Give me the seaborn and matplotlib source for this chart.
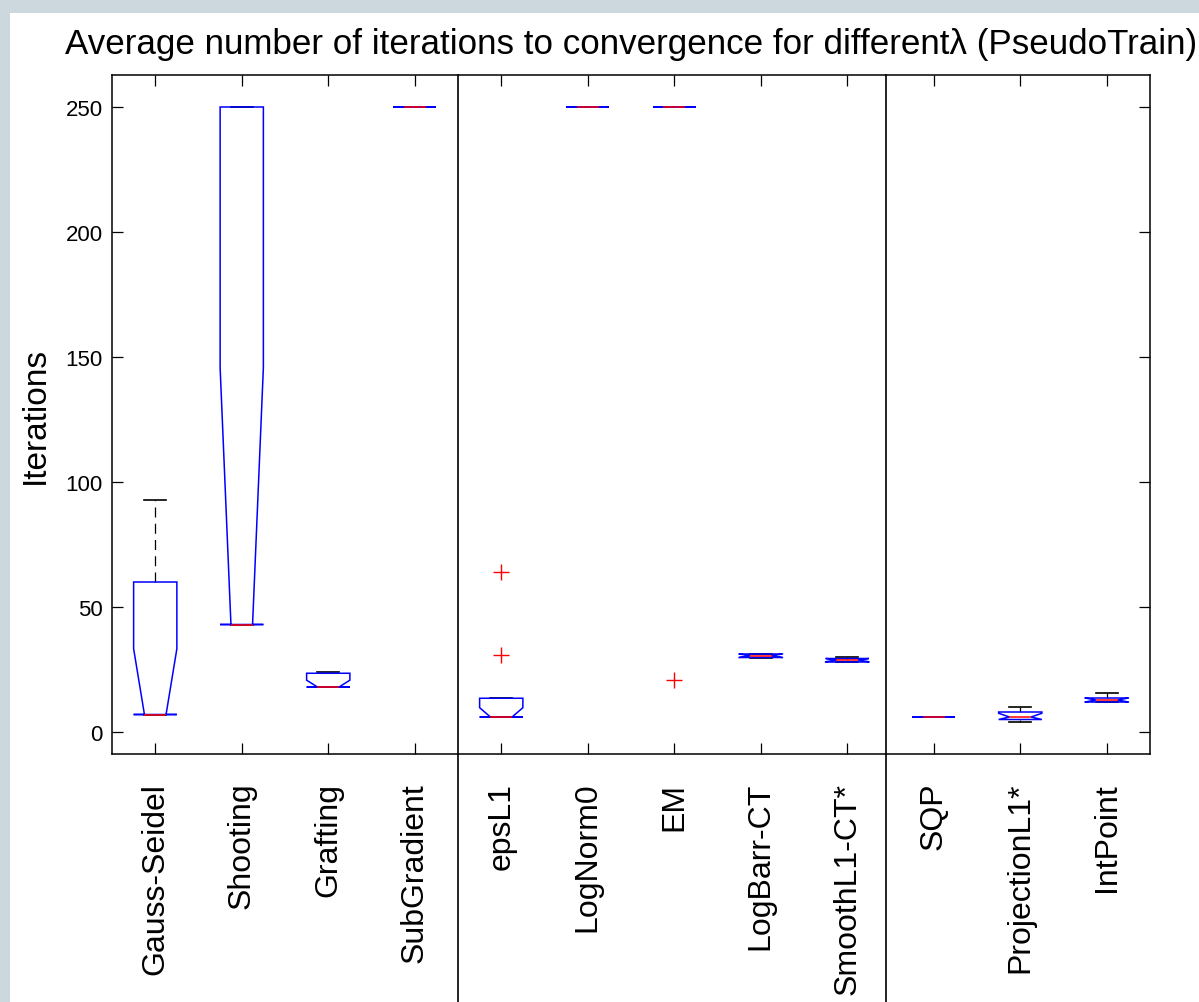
import numpy as np
import pandas as pd
import matplotlib
matplotlib.use("Agg")
import matplotlib.pyplot as plt
import matplotlib.patches as mpatches
import matplotlib.path as mpath
import seaborn as sns

plt.rcParams['font.family'] = ['Liberation Sans', 'DejaVu Sans']

# ---- data (iterations to convergence over the lambda values) ----
methods = ["Gauss-Seidel", "Shooting", "Grafting", "SubGradient", "epsL1",
           "LogNorm0", "EM", "LogBarr-CT", "SmoothL1-CT*", "SQP",
           "ProjectionL1*", "IntPoint"]

gauss_seidel = [7, 7, 7, 7, 7, 7, 60, 60, 75, 93]
shooting = [43, 43, 43, 43, 43, 43, 250, 250, 250, 250]
grafting = [18, 18, 18, 18, 18, 18, 23.5, 23.5, 24, 24]
subgradient = [250, 250, 250, 250, 250, 250, 250, 250, 250, 250]
epsl1 = [6, 6, 6, 6, 6, 6, 13.5, 13.5, 31, 64]
lognorm0 = [250, 250, 250, 250, 250, 250, 250, 250, 250, 250]
em = [21, 250, 250, 250, 250, 250, 250, 250, 250, 250]
logbarr_ct = [29.8, 29.8, 29.8, 29.8, 30.5, 30.5, 31.2, 31.2, 31.2, 31.2]
smoothl1_ct = [28, 28, 28, 28, 28.8, 28.8, 29.4, 29.4, 29.9, 29.9]
sqp = [6, 6, 6, 6, 6, 6, 6, 6, 6, 6]
projectionl1 = [4, 5, 5, 5, 6, 6, 8, 8, 9, 10]
intpoint = [12, 12, 12, 12, 12.8, 12.8, 13.6, 13.6, 15, 15.8]

series = [gauss_seidel, shooting, grafting, subgradient, epsl1, lognorm0, em,
          logbarr_ct, smoothl1_ct, sqp, projectionl1, intpoint]

yticks = [0, 50, 100, 150, 200, 250]
group_separators = [3.5, 8.45]

df = pd.DataFrame({
    "method": [m for m, vals in zip(methods, series) for _ in vals],
    "iterations": [v for vals in series for v in vals],
})

# ---- figure ----
fig = plt.figure(figsize=(11.99, 10.03), dpi=100)
fig.patch.set_facecolor("white")
bg = "#cdd8de"
fig.patches.append(mpatches.Rectangle((0, 0), 10 / 1199, 1, transform=fig.transFigure,
                                      facecolor=bg, edgecolor="none", zorder=-5))
fig.patches.append(mpatches.Rectangle((0, 1 - 14 / 1003), 1, 14 / 1003, transform=fig.transFigure,
                                      facecolor=bg, edgecolor="none", zorder=-5))

ax = fig.add_axes([112 / 1199, 1 - 755 / 1003, (1150 - 112) / 1199, (755 - 76) / 1003])

sns.boxplot(data=df, x="method", y="iterations", order=methods, ax=ax,
            width=0.5, notch=True, fill=True, linewidth=1.0, fliersize=11,
            boxprops=dict(facecolor="none", edgecolor="blue", linewidth=1.1, zorder=2),
            medianprops=dict(color="red", linewidth=1.1, zorder=2.2),
            whiskerprops=dict(color="black", linewidth=0.9, linestyle=(0, (8, 5)), zorder=1.5),
            capprops=dict(color="black", linewidth=1.2, zorder=1.5),
            flierprops=dict(marker="+", markeredgecolor="red", markerfacecolor="red",
                            markersize=11, markeredgewidth=1.0))

# MATLAB-style notches: keep the notch within the box hinges
for patch in ax.patches:
    if isinstance(patch, mpatches.PathPatch):
        path = patch.get_path()
        v = np.array(path.vertices, dtype=float)
        if len(v) >= 6:
            lo, hi = sorted([v[0, 1], v[5, 1]])
            v[:, 1] = np.clip(v[:, 1], lo, hi)
            patch.set_path(mpath.Path(v, path.codes))

ax.set_xlim(-0.5, len(methods) - 0.5)
ax.set_ylim(-8.8, 262.8)
ax.set_yticks(yticks)
ax.set_xticks(range(len(methods)))
ax.set_xticklabels(methods, rotation=90, fontsize=23)
ax.tick_params(axis="x", direction="in", length=7.7, width=0.9, top=True, pad=20, colors="black")
ax.tick_params(axis="y", direction="in", length=7.7, width=0.9, right=True, pad=6.5,
               labelsize=16, colors="black")
for lab in ax.get_xticklabels():
    lab.set_verticalalignment("top")
ax.set_xlabel("")
ax.set_ylabel("Iterations", fontsize=24)
ax.yaxis.set_label_coords(-0.059, 0.5)
ax.set_title("Average number of iterations to convergence for differentλ (PseudoTrain)",
             fontsize=25.2, pad=16)
ax.grid(False)
for s in ax.spines.values():
    s.set_visible(True)
    s.set_color("black")
    s.set_linewidth(1.1)

for xs in group_separators:
    ax.plot([xs, xs], [1.0, -0.4], transform=ax.get_xaxis_transform(),
            color="black", linewidth=1.2, clip_on=False, zorder=5)

fig.savefig("out.png", dpi=100)
